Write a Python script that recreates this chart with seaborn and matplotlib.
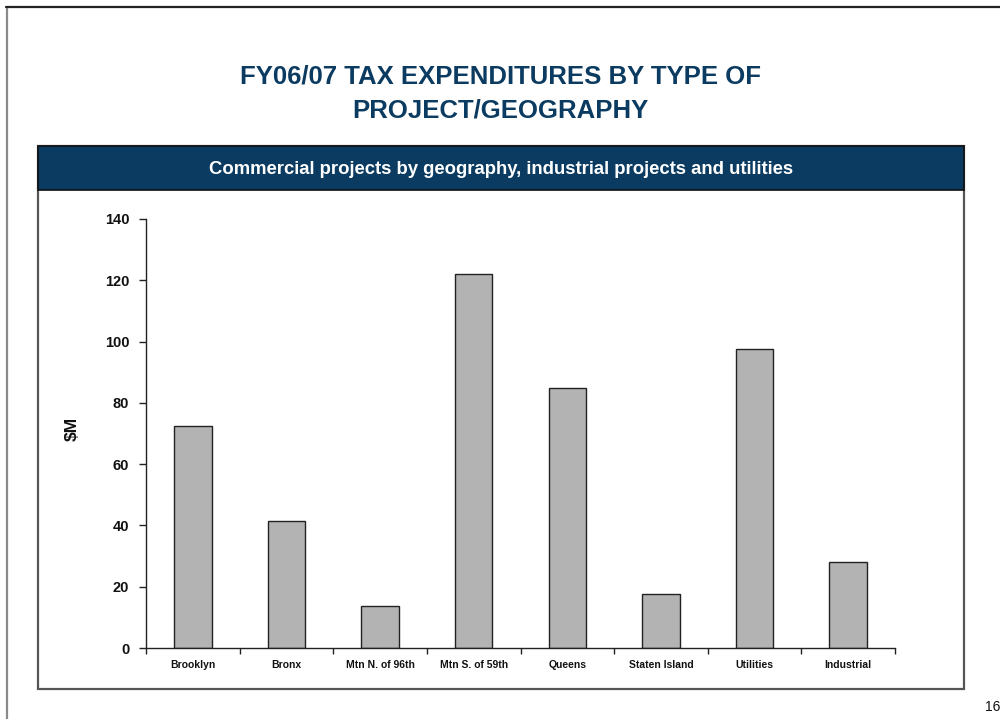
import matplotlib
matplotlib.use("Agg")
import matplotlib.pyplot as plt
from matplotlib.patches import Rectangle
from matplotlib.lines import Line2D
import seaborn as sns
import pandas as pd

# Tax expenditures, $M, FY06/07
categories = ["Brooklyn", "Bronx", "Mtn N. of 96th", "Mtn S. of 59th",
              "Queens", "Staten Island", "Utilities", "Industrial"]
values = [72.3, 41.4, 13.7, 122.0, 84.9, 17.6, 97.5, 28.2]
y_ticks = [0, 20, 40, 60, 80, 100, 120, 140]

title_lines = ["FY06/07 TAX EXPENDITURES BY TYPE OF", "PROJECT/GEOGRAPHY"]
panel_title = "Commercial projects by geography, industrial projects and utilities"
y_label = "$M"
page_number = "16"

NAVY = "#0B3B60"
INK = "#111111"

sns.set_style("white")
plt.rcParams["font.family"] = ["Liberation Sans", "DejaVu Sans"]

W, H = 1000, 719
fig = plt.figure(figsize=(W / 100, H / 100), dpi=100)


def fx(px):
    return px / W


def fy(py):
    return 1 - py / H


# page frame (left and top edges)
fig.add_artist(Line2D([fx(6.5), fx(6.5)], [fy(7), fy(719)], color="#8a8a8a", lw=1.6,
                      transform=fig.transFigure))
fig.add_artist(Line2D([fx(6), fx(1000)], [fy(7), fy(7)], color="#222222", lw=1.6,
                      transform=fig.transFigure))

# panel box and header band
fig.add_artist(Rectangle((fx(38), fy(689)), fx(964) - fx(38), fy(146) - fy(689),
                         facecolor="white", edgecolor="#555555", lw=1.6,
                         transform=fig.transFigure, zorder=0))
fig.add_artist(Rectangle((fx(38), fy(190)), fx(964) - fx(38), fy(146) - fy(190),
                         facecolor=NAVY, edgecolor="#111111", lw=1.2,
                         transform=fig.transFigure, zorder=1))

# titles
fig.text(0.5, fy(76), title_lines[0], ha="center", va="center", fontsize=18.5,
         fontweight="bold", color=NAVY)
fig.text(0.5, fy(111), title_lines[1], ha="center", va="center", fontsize=18.5,
         fontweight="bold", color=NAVY)
fig.text(0.501, fy(169), panel_title, ha="center", va="center", fontsize=13.3,
         fontweight="bold", color="white")
fig.text(fx(985), fy(707), page_number, ha="left", va="center", fontsize=10,
         color=INK)

# bar chart
ax = fig.add_axes([fx(146), fy(648), fx(895) - fx(146), fy(219) - fy(648)])
ax.set_facecolor("none")
df = pd.DataFrame({"category": categories, "value": values})
sns.barplot(data=df, x="category", y="value", ax=ax, color="#b3b3b3",
            saturation=1, width=0.4, edgecolor="#222222", linewidth=1.0)

ax.set_xlim(-0.5, len(categories) - 0.5)
ax.set_ylim(0, 140)
ax.set_yticks(y_ticks)
ax.set_yticklabels([str(t) for t in y_ticks], fontsize=10.5, fontweight="bold",
                   color=INK)
ax.set_xticks(range(len(categories)))
ax.set_xticklabels(categories, fontsize=7.5, fontweight="bold", color=INK)
ax.set_xticks([i - 0.5 for i in range(len(categories) + 1)], minor=True)
ax.tick_params(axis="x", which="major", length=0, pad=9)
ax.tick_params(axis="x", which="minor", length=4, width=1, color="#222222",
               direction="out", bottom=True)
ax.tick_params(axis="y", length=5, width=1, color="#222222", direction="out",
               left=True, pad=7)

for side in ("top", "right"):
    ax.spines[side].set_visible(False)
for side in ("left", "bottom"):
    ax.spines[side].set_color("#222222")
    ax.spines[side].set_linewidth(1.0)

ax.set_xlabel("")
ax.set_ylabel(y_label, fontsize=12.5, fontweight="bold", color=INK)
ax.yaxis.set_label_coords(-0.088, 0.51)

fig.savefig("out.png", dpi=100)
